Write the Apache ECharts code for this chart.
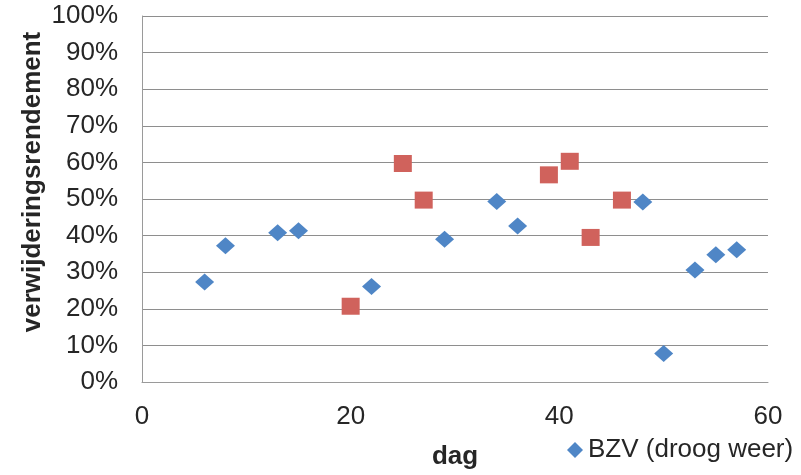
<!DOCTYPE html>
<html>
<head>
<meta charset="utf-8">
<script src="https://cdn.jsdelivr.net/npm/echarts@6/dist/echarts.min.js"></script>
<style>html,body{margin:0;padding:0;background:#fff;}#c{width:801px;height:475px;}</style>
</head>
<body>
<div id="c"></div>
<script>
// BZV (droog weer) - blue diamonds
const bzvDays = [6, 8, 13, 15, 22, 29, 34, 36, 48, 50, 53, 55, 57];
const bzvValues = [0.273, 0.372, 0.408, 0.413, 0.261, 0.390, 0.493, 0.426, 0.492, 0.078, 0.306, 0.348, 0.361];
// second series (red squares), not shown in legend
const redDays = [20, 25, 27, 39, 41, 43, 46];
const redValues = [0.207, 0.597, 0.497, 0.566, 0.603, 0.395, 0.497];
const seriesNames = ['BZV (droog weer)', 'BZV (regen)'];
const xTicks = [0, 20, 40, 60];
const yTitle = 'verwijderingsrendement';
const xTitle = 'dag';

const font = 'Liberation Sans, Arial, sans-serif';
const chart = echarts.init(document.getElementById('c'));
chart.setOption({
  animation: false,
  grid: {left: 142, right: 33, top: 16, bottom: 93},
  graphic: [{
    type: 'text', x: 33, y: 182, rotation: Math.PI / 2,
    style: {text: yTitle, font: 'bold 26px ' + font, fill: '#262626',
      textAlign: 'center', textVerticalAlign: 'middle'}
  }],
  xAxis: {
    type: 'value', min: xTicks[0], max: xTicks[xTicks.length - 1], interval: 20,
    name: xTitle, nameLocation: 'middle', nameGap: 62,
    nameTextStyle: {fontFamily: font, fontSize: 26, fontWeight: 'bold', color: '#262626'},
    axisLine: {show: true, lineStyle: {color: '#9a9a9a', width: 1}},
    axisTick: {show: false},
    splitLine: {show: false},
    axisLabel: {fontFamily: font, fontSize: 26, color: '#262626', margin: 22}
  },
  yAxis: {
    type: 'value', min: 0, max: 1, interval: 0.1,
    axisLine: {show: true, lineStyle: {color: '#9a9a9a', width: 1}},
    axisTick: {show: false},
    splitLine: {show: true, lineStyle: {color: '#8e8e8e', width: 1}},
    axisLabel: {fontFamily: font, fontSize: 26, color: '#262626', margin: 24,
      formatter: v => Math.round(v * 100) + '%'}
  },
  legend: {
    data: [seriesNames[0]],
    left: 562, top: 432,
    itemWidth: 16, itemHeight: 16, itemGap: 4,
    textStyle: {fontFamily: font, fontSize: 26, color: '#262626'}
  },
  series: [
    {
      name: seriesNames[0], type: 'scatter', symbol: 'diamond', symbolSize: [19, 17],
      itemStyle: {color: '#4f86c6', opacity: 1},
      data: bzvDays.map((d, i) => [d, bzvValues[i]])
    },
    {
      name: seriesNames[1], type: 'scatter', symbol: 'rect', symbolSize: [18, 17],
      itemStyle: {color: '#d0625c', opacity: 1},
      data: redDays.map((d, i) => [d, redValues[i]])
    }
  ]
});
</script>
</body>
</html>
